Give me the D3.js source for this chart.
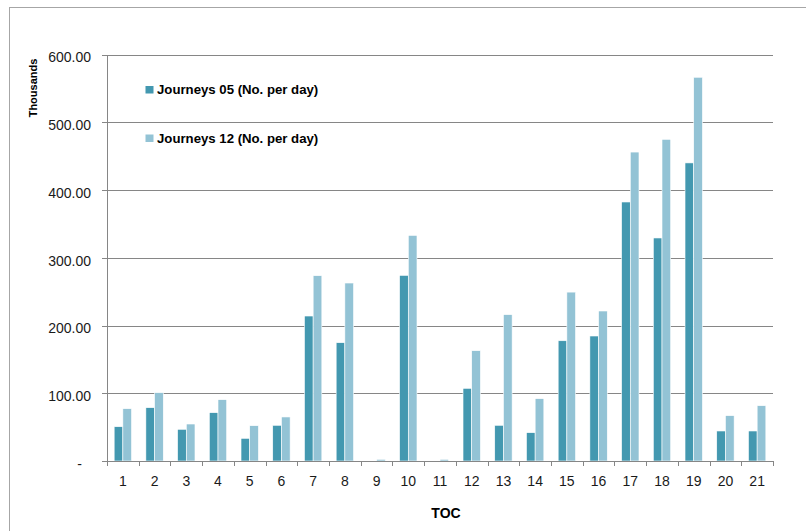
<!DOCTYPE html>
<html>
<head>
<meta charset="utf-8">
<script src="https://cdn.jsdelivr.net/npm/d3@7"></script>
<style>
  html, body { margin: 0; padding: 0; background: #fff; }
  svg { display: block; }
</style>
</head>
<body>
<svg id="chart" width="806" height="531"></svg>
<script>
const categories = ["1","2","3","4","5","6","7","8","9","10","11","12","13","14","15","16","17","18","19","20","21"];
const journeys05 = [50.6, 78.7, 46.8, 71.3, 33.5, 52.7, 214, 174.6, 0, 274, 0, 107.3, 52.7, 41.8, 177.5, 184.5, 382.3, 329.2, 440, 44.3, 44.3];
const journeys12 = [77.2, 100.8, 54.6, 90.5, 52.1, 65, 273.5, 262.7, 2.5, 333, 2.5, 162.8, 216, 92, 249.3, 221.4, 456, 474.8, 566.4, 66.9, 81.6];
const seriesNames = ["Journeys 05 (No. per day)", "Journeys 12 (No. per day)"];
const yTicks = [0, 100, 200, 300, 400, 500, 600];
const xTitle = "TOC";
const yTitle = "Thousands";

(function () {
const colors = ["#4398b0", "#93c3d5"];
const gridColor = "#868686";

const svg = d3.select("#chart");

// outer chart border (cropped on right/bottom)
svg.append("rect")
  .attr("x", 9.5).attr("y", 7.5)
  .attr("width", 900).attr("height", 600)
  .attr("fill", "none").attr("stroke", "#a6a6a6").attr("stroke-width", 1);

const pLeft = 107, pRight = 773, pTop = 54.5, pBottom = 461;

const x = d3.scaleBand().domain(categories).range([pLeft, pRight]).padding(0);
const y = d3.scaleLinear().domain([0, 600]).range([pBottom, pTop]);

// gridlines + y axis
const yAxis = d3.axisLeft(y).tickValues(yTicks)
  .tickSize(-(pRight - pLeft))
  .tickFormat(d => d === 0 ? "-" : d3.format(".2f")(d));
const gy = svg.append("g").attr("transform", `translate(${pLeft},0)`).call(yAxis);
gy.select(".domain").remove();
gy.selectAll(".tick line")
  .attr("x1", -5)
  .attr("stroke", gridColor).attr("stroke-width", 1)
  .attr("shape-rendering", "crispEdges");
gy.selectAll(".tick text")
  .attr("x", d => d === 0 ? -25 : -16)
  .attr("dy", "0.38em")
  .attr("font-family", "Liberation Sans, Arial, sans-serif")
  .attr("font-size", 14)
  .attr("fill", "#1a1a1a")
  .attr("transform", "translate(0,2)");

// y axis line
svg.append("line")
  .attr("x1", pLeft + 0.5).attr("x2", pLeft + 0.5)
  .attr("y1", pTop).attr("y2", pBottom)
  .attr("stroke", gridColor).attr("shape-rendering", "crispEdges");

// bars
const barW = 8.7;
const groups = svg.append("g");
categories.forEach((c, i) => {
  const cx = x(c) + x.bandwidth() / 2;
  [journeys05[i], journeys12[i]].forEach((v, s) => {
    if (v <= 0) return;
    groups.append("rect")
      .attr("x", s === 0 ? cx - barW : cx)
      .attr("y", y(v))
      .attr("width", barW)
      .attr("height", y(0) - y(v))
      .attr("fill", colors[s])
      .attr("stroke", "#ffffff")
      .attr("stroke-width", 0.6);
  });
});

// x axis
const gx = svg.append("g").attr("transform", `translate(0,${pBottom})`)
  .call(d3.axisBottom(x).tickSize(0).tickPadding(0));
gx.select(".domain").remove();
gx.selectAll(".tick text")
  .attr("y", 25)
  .attr("dy", 0)
  .attr("font-family", "Liberation Sans, Arial, sans-serif")
  .attr("font-size", 14)
  .attr("fill", "#1a1a1a");
svg.append("line")
  .attr("x1", pLeft).attr("x2", pRight + 0.5)
  .attr("y1", pBottom + 0.5).attr("y2", pBottom + 0.5)
  .attr("stroke", gridColor).attr("shape-rendering", "crispEdges");
// boundary tick marks
const bounds = categories.map(c => x(c)).concat([pRight]);
svg.append("g").selectAll("line").data(bounds).join("line")
  .attr("x1", d => Math.round(d) + 0.5).attr("x2", d => Math.round(d) + 0.5)
  .attr("y1", pBottom).attr("y2", pBottom + 5)
  .attr("stroke", gridColor).attr("shape-rendering", "crispEdges");

// axis titles
svg.append("text")
  .attr("x", 446).attr("y", 518)
  .attr("text-anchor", "middle")
  .attr("font-family", "Liberation Sans, Arial, sans-serif")
  .attr("font-weight", "bold").attr("font-size", 14)
  .attr("fill", "#000")
  .text(xTitle);

svg.append("text")
  .attr("transform", "translate(37,88) rotate(-90)")
  .attr("text-anchor", "middle")
  .attr("font-family", "Liberation Sans, Arial, sans-serif")
  .attr("font-weight", "bold").attr("font-size", 11)
  .attr("fill", "#000")
  .text(yTitle);

// legend
const legend = svg.append("g");
seriesNames.forEach((name, i) => {
  const ly = 94 + i * 48.5;
  legend.append("rect")
    .attr("x", 145.5).attr("y", ly - 8)
    .attr("width", 8).attr("height", 7.5)
    .attr("fill", colors[i]);
  legend.append("text")
    .attr("x", 157).attr("y", ly)
    .attr("font-family", "Liberation Sans, Arial, sans-serif")
    .attr("font-weight", "bold").attr("font-size", 13.2)
    .attr("fill", "#000")
    .text(name);
});
})();
</script>
</body>
</html>
